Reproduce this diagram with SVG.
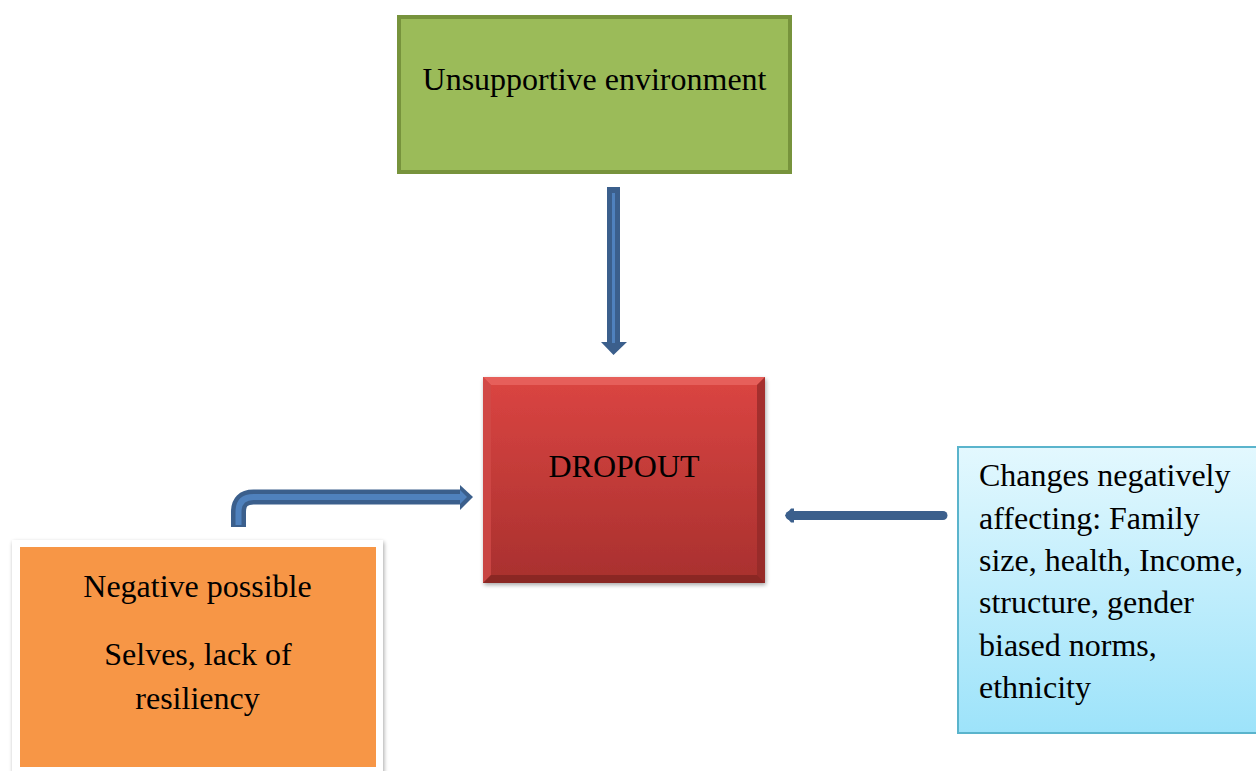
<svg xmlns="http://www.w3.org/2000/svg" width="1256" height="771" viewBox="0 0 1256 771">
<defs>
<style>
.t{font-family:"Liberation Serif","Times New Roman",serif;font-size:32px;fill:#000}
.dk{fill:#3b5f8c}
.lt{fill:#4f81bd}
</style>
<linearGradient id="red" x1="0" y1="0" x2="0" y2="1">
<stop offset="0" stop-color="#db4542"/>
<stop offset="1" stop-color="#a8302e"/>
</linearGradient>
<linearGradient id="blue" x1="0" y1="0" x2="0" y2="1">
<stop offset="0" stop-color="#e3f8fe"/>
<stop offset="1" stop-color="#9de3fa"/>
</linearGradient>
<filter id="sh" x="-10%" y="-10%" width="120%" height="120%">
<feGaussianBlur in="SourceAlpha" stdDeviation="2"/>
<feOffset dx="1" dy="2"/>
<feComponentTransfer><feFuncA type="linear" slope="0.35"/></feComponentTransfer>
<feMerge><feMergeNode/><feMergeNode in="SourceGraphic"/></feMerge>
</filter>
</defs>
<rect width="1256" height="771" fill="#fff"/>

<g id="unsupportive">
<rect x="399" y="17" width="391" height="155" fill="#9bbb59" stroke="#77933c" stroke-width="4"/>
<text class="t" x="594.5" y="90" text-anchor="middle">Unsupportive environment</text>
</g>

<g id="dropout">
<rect x="483" y="377" width="282" height="206" fill="url(#red)" filter="url(#sh)"/>
<polygon points="483,377 765,377 757,385 491,385" fill="#e86560" opacity="0.8"/>
<polygon points="483,377 491,385 491,575 483,583" fill="#d04a47" opacity="0.8"/>
<polygon points="765,377 765,583 757,575 757,385" fill="#8e2826" opacity="0.7"/>
<polygon points="483,583 491,575 757,575 765,583" fill="#7d2220" opacity="0.7"/>
<text class="t" x="624" y="477" text-anchor="middle">DROPOUT</text>
</g>

<g id="changes">
<rect x="958" y="447" width="300" height="286" fill="url(#blue)" stroke="#5ab4cc" stroke-width="2"/>
<text class="t" x="979">
<tspan x="979" y="486">Changes negatively</tspan>
<tspan x="979" y="528.5">affecting: Family</tspan>
<tspan x="979" y="571">size, health, Income,</tspan>
<tspan x="979" y="613">structure, gender</tspan>
<tspan x="979" y="655.5">biased norms,</tspan>
<tspan x="979" y="697.5">ethnicity</tspan>
</text>
</g>

<g id="negative">
<rect x="12" y="540" width="371" height="240" fill="#fff" filter="url(#sh)"/>
<rect x="20" y="547" width="356" height="220" fill="#f79646"/>
<text class="t" x="197.5" y="597" text-anchor="middle">Negative possible</text>
<text class="t" x="198" y="664.5" text-anchor="middle">Selves, lack of</text>
<text class="t" x="197.5" y="708.5" text-anchor="middle">resiliency</text>
</g>

<g id="connectors">
<!-- down arrow -->
<path class="dk" d="M607,187 H620 V342 H627 L613.5,355 L601,342 H607 Z"/>
<rect class="lt" x="612" y="193" width="3" height="150"/>
<!-- left arrow from changes -->
<path d="M943,515.5 H790" stroke="#3b5f8c" stroke-width="9" stroke-linecap="round" fill="none"/>
<path class="dk" d="M785,515.5 L791,508.5 H794 V522.5 H791 Z"/>
<!-- bent arrow from negative -->
<path d="M238.5,527 V512 Q238.5,497 253.5,497 H462" stroke="#3b5f8c" stroke-width="15" fill="none" stroke-linejoin="round"/>
<path d="M238.5,525 V512 Q238.5,497 253.5,497 H462" stroke="#4f81bd" stroke-width="6" fill="none"/>
<path class="dk" d="M460,485 L473,497 L460,510 Z"/>
<path class="lt" d="M460,490 L467,497 L460,504 Z"/>
</g>
</svg>
